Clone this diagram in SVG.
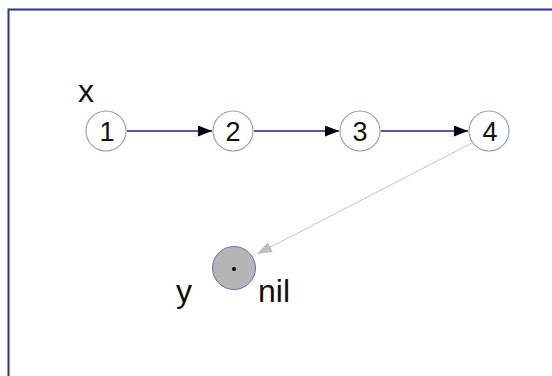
<svg xmlns="http://www.w3.org/2000/svg" width="552" height="376" viewBox="0 0 552 376">
<style>
.node{fill:#fff;stroke:#9494c4;stroke-width:1.1}
.num{font-family:"Liberation Sans",Arial,sans-serif;font-size:27px;fill:#111;text-anchor:middle}
.lbl{font-family:"Liberation Sans",Arial,sans-serif;font-size:32px;fill:#111}
.link{stroke:#1c1c8c;stroke-width:1.6;fill:none}
.nilref{stroke:#c4c4c4;stroke-width:1;fill:none}
</style>
<defs>
<marker id="ah" viewBox="0 0 14 11" refX="14" refY="5.5" markerWidth="14" markerHeight="11" markerUnits="userSpaceOnUse" orient="auto">
<path d="M0,0 L14,5.5 L0,11 Z" fill="#000"/>
</marker>
<marker id="ahg" viewBox="0 0 15 11" refX="15" refY="5.5" markerWidth="15" markerHeight="11" markerUnits="userSpaceOnUse" orient="auto">
<path d="M0,0 L15,5.5 L0,11 Z" fill="#bdbdbd"/>
</marker>
</defs>
<path d="M8.5,376 V9.5 H552" fill="none" stroke="#2e2e9e" stroke-width="2"/>
<g id="connectors">
<line class="link" x1="127" y1="131" x2="212" y2="131" marker-end="url(#ah)"/>
<line class="link" x1="254" y1="131" x2="339" y2="131" marker-end="url(#ah)"/>
<line class="link" x1="381" y1="131" x2="468" y2="131" marker-end="url(#ah)"/>
<line class="nilref" x1="472" y1="143" x2="257" y2="254" marker-end="url(#ahg)"/>
</g>
<text class="lbl" x="78" y="102">x</text>
<g id="n1"><circle class="node" cx="106" cy="131" r="20"/><text class="num" x="107" y="141">1</text></g>
<g id="n2"><circle class="node" cx="233" cy="131" r="20"/><text class="num" x="233" y="141">2</text></g>
<g id="n3"><circle class="node" cx="360" cy="131" r="20"/><text class="num" x="360" y="141">3</text></g>
<g id="n4"><circle class="node" cx="489" cy="131" r="20"/><text class="num" x="490" y="141">4</text></g>
<g id="nil">
<circle cx="234" cy="268" r="21.5" fill="#b5b5b5" stroke="#6c6ca4" stroke-width="1"/>
<circle cx="234" cy="269" r="2" fill="#000"/>
<text class="lbl" x="176" y="302">y</text>
<text class="lbl" x="258" y="302">nil</text>
</g>
</svg>
